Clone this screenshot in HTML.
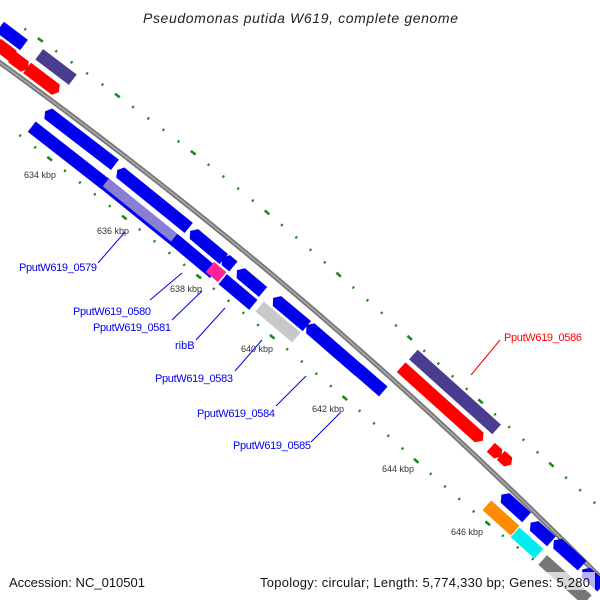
<!DOCTYPE html>
<html><head><meta charset="utf-8"><style>
body{margin:0;background:#fff}
svg{display:block}
text{font-family:"Liberation Sans","DejaVu Sans",sans-serif}
</style></head><body>
<svg width="600" height="600" viewBox="0 0 600 600" xmlns="http://www.w3.org/2000/svg">
<!-- tick lines -->
<path d="M15 22 C 100 82, 180 140, 257 204 S 500 420, 597 505" fill="none" stroke="#1a8a1a" stroke-width="2.6" stroke-dasharray="6 15.5 2 17 2 17 2 17 2 14.5" stroke-dashoffset="-28"/>
<path d="M8 126 L125 218 C 220 292, 340 392, 412 457 S 540 570, 610 610" fill="none" stroke="#1a8a1a" stroke-width="2.6" stroke-dasharray="6 15.5 2 17 2 17 2 17 2 14.5" stroke-dashoffset="-50"/>
<!-- backbone -->
<path d="M-5 59 C 200 208, 382 358, 605 582" fill="none" stroke="#777" stroke-width="5"/>
<path d="M-5 59 C 200 208, 382 358, 605 582" fill="none" stroke="#aaa" stroke-width="1.5"/>
<g stroke="none">
<!-- top cluster -->
<rect x="-15" y="-6.5" width="30" height="13" fill="#0000ee" transform="translate(12,36) rotate(37)"/>
<rect x="-10" y="-6.5" width="20" height="13" fill="#f00" transform="translate(5,50) rotate(37)"/>
<polygon points="-10,-6.5 6,-6.5 10,0 6,6.5 -10,6.5" fill="#f00" transform="translate(20,63) rotate(37)"/>
<polygon points="-20,-6.5 16,-6.5 20,0 16,6.5 -20,6.5" fill="#f00" transform="translate(43,80) rotate(37)"/>
<rect x="-21" y="-6.5" width="42" height="13" fill="#4a3d8f" transform="translate(56,67) rotate(37)"/>
<!-- middle -->
<polygon points="-44,0 -40,-6.5 44,-6.5 44,6.5 -40,6.5" fill="#0000ee" transform="translate(80,138) rotate(37.5)"/>
<rect x="-46" y="-6.5" width="93" height="13" fill="#0000ee" transform="translate(68,155) rotate(38)"/>
<polygon points="-46,0 -42,-6.5 46,-6.5 46,6.5 -42,6.5" fill="#0000ee" transform="translate(153,199) rotate(39)"/>
<rect x="-47" y="-6.5" width="95" height="13" fill="#0000ee" transform="translate(140,212) rotate(39)"/>
<rect x="-44" y="-5" width="88" height="10" fill="#8a7fd6" transform="translate(140,210) rotate(39)"/>
<polygon points="-22,0 -17,-6.5 22,-6.5 22,6.5 -17,6.5" fill="#0000ee" transform="translate(207,245) rotate(40)"/>
<polygon points="-7,0 -3,-6.5 7,-6.5 7,6.5 -3,6.5" fill="#0000ee" transform="translate(228,262) rotate(40)"/>
<rect x="-25" y="-6.5" width="50" height="13" fill="#0000ee" transform="translate(195,257) rotate(40)"/>
<rect x="-8" y="-6.5" width="16" height="13" fill="#ff2299" transform="translate(216,272) rotate(40)"/>
<polygon points="-17,0 -12,-6.5 17,-6.5 17,6.5 -12,6.5" fill="#0000ee" transform="translate(250,281) rotate(40)"/>
<rect x="-20" y="-6.5" width="40" height="13" fill="#0000ee" transform="translate(238,292) rotate(40)"/>
<polygon points="-22,0 -17,-6.5 22,-6.5 22,6.5 -17,6.5" fill="#0000ee" transform="translate(290,312) rotate(40)"/>
<rect x="-24" y="-6.5" width="48" height="13" fill="#c8c8c8" transform="translate(278,322) rotate(40)"/>
<polygon points="-35,0 -30,-6.5 35,-6.5 35,6.5 -30,6.5" fill="#0000ee" transform="translate(333,348) rotate(41)"/>
<polygon points="-19,0 -14,-6.5 19,-6.5 19,6.5 -14,6.5" fill="#0000ee" transform="translate(369,379) rotate(41)"/>
<!-- lower -->
<rect x="-56" y="-6.5" width="112" height="13" fill="#4a3d8f" transform="translate(455,392) rotate(42)"/>
<polygon points="-55,-6.5 50,-6.5 55,0 50,6.5 -55,6.5" fill="#f00" transform="translate(442,404) rotate(42)"/>
<polygon points="-7,-6 3,-6 7,0 3,6 -7,6" fill="#f00" transform="translate(496,452) rotate(42)"/>
<polygon points="-7,-6 3,-6 7,0 3,6 -7,6" fill="#f00" transform="translate(506,460) rotate(42)"/>
<polygon points="-17,0 -12,-6.5 17,-6.5 17,6.5 -12,6.5" fill="#0000ee" transform="translate(514,506) rotate(42)"/>
<rect x="-19" y="-6.5" width="38" height="13" fill="#ff8c00" transform="translate(501,518) rotate(42)"/>
<polygon points="-14,0 -9,-6.5 14,-6.5 14,6.5 -9,6.5" fill="#0000ee" transform="translate(541,532) rotate(42)"/>
<rect x="-16" y="-6.5" width="32" height="13" fill="#00eeee" transform="translate(527,543) rotate(42)"/>
<polygon points="-19,0 -14,-6.5 19,-6.5 19,6.5 -14,6.5" fill="#0000ee" transform="translate(568,553) rotate(42)"/>
<rect x="-30" y="-6.5" width="60" height="13" fill="#777" transform="translate(565,580) rotate(42)"/>
<polygon points="-13,0 -8,-6.5 13,-6.5 13,6.5 -8,6.5" fill="#0000ee" transform="translate(592,578) rotate(42)"/>
</g>
<!-- kbp labels -->
<g font-size="9" fill="#333">
<text x="24" y="178">634 kbp</text>
<text x="97" y="234">636 kbp</text>
<text x="170" y="292">638 kbp</text>
<text x="241" y="352">640 kbp</text>
<text x="312" y="412">642 kbp</text>
<text x="382" y="472">644 kbp</text>
<text x="451" y="535">646 kbp</text>
</g>
<!-- gene labels -->
<g stroke="#0000ee" stroke-width="1">
<line x1="98" y1="263" x2="125" y2="232"/>
<line x1="150" y1="300" x2="182" y2="273"/>
<line x1="172" y1="320" x2="202" y2="291"/>
<line x1="196" y1="340" x2="225" y2="308"/>
<line x1="235" y1="371" x2="262" y2="340"/>
<line x1="276" y1="406" x2="306" y2="376"/>
<line x1="311" y1="442" x2="340" y2="413"/>
</g>
<line x1="500" y1="340" x2="471" y2="375" stroke="#f00"/>
<g font-size="11" fill="#0000ee">
<text x="19" y="271" textLength="78">PputW619_0579</text>
<text x="73" y="315" textLength="78">PputW619_0580</text>
<text x="93" y="331" textLength="78">PputW619_0581</text>
<text x="175" y="349">ribB</text>
<text x="155" y="382" textLength="78">PputW619_0583</text>
<text x="197" y="417" textLength="78">PputW619_0584</text>
<text x="233" y="449" textLength="78">PputW619_0585</text>
</g>
<text x="504" y="341" font-size="11" fill="#f00" textLength="78">PputW619_0586</text>
<text x="143" y="23" font-size="14" font-style="italic" fill="#222" textLength="315">Pseudomonas putida W619, complete genome</text>
<rect x="255" y="572" width="340" height="18" fill="#fff" opacity="0.7"/>
<text x="9" y="587" font-size="13" fill="#111" textLength="136">Accession: NC_010501</text>
<text x="260" y="587" font-size="13" fill="#111" textLength="330">Topology: circular; Length: 5,774,330 bp; Genes: 5,280</text>
</svg>
</body></html>
